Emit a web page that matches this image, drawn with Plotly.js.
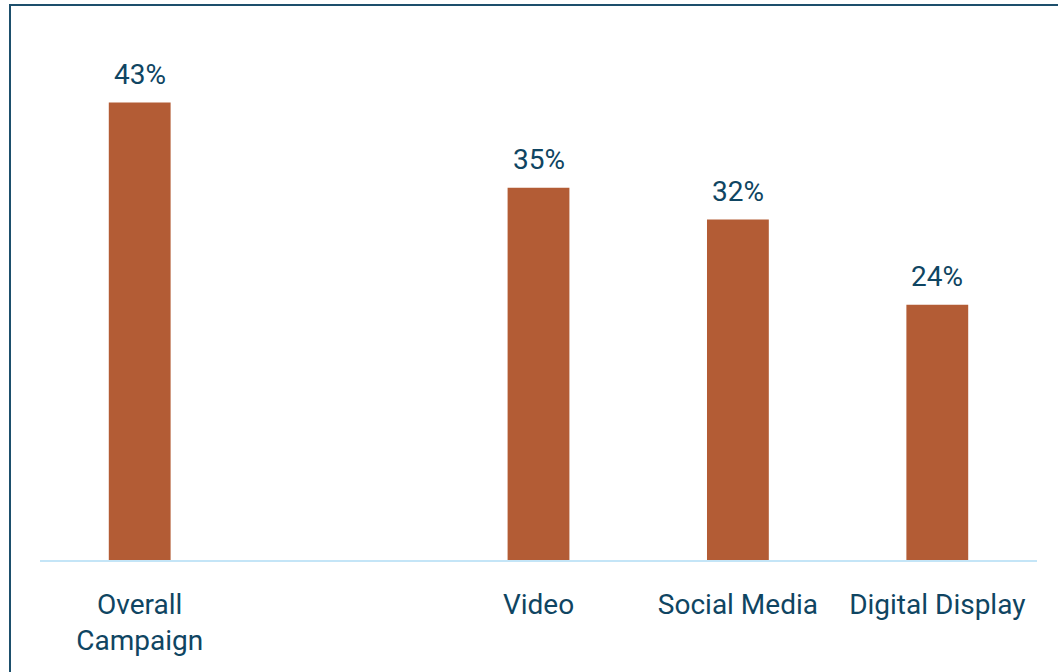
<!DOCTYPE html>
<html>
<head>
<meta charset="utf-8">
<script src="https://cdn.plot.ly/plotly-3.0.1.min.js"></script>
<style>
html,body{margin:0;padding:0;background:#fff;overflow:hidden;}
#wrap{position:relative;width:1058px;height:672px;overflow:hidden;}
#frame{position:absolute;left:9px;top:4px;width:1200px;height:800px;border-top:2px solid #1d4f6c;border-left:2px solid #1d4f6c;box-sizing:border-box;pointer-events:none;z-index:5;}
#chart{position:absolute;left:0;top:0;width:1058px;height:672px;}
</style>
</head>
<body>
<div id="wrap"><div id="chart"></div><div id="frame"></div></div>
<script>
const categories = ["Overall<br>Campaign", " ", "Video", "Social Media", "Digital Display"];
const values = [43, null, 35, 32, 24];
const labels = ["43%", "", "35%", "32%", "24%"];

const FONT = "Roboto, 'Liberation Sans', Arial, sans-serif";
const NAVY = "#0f4562";

const annotations = [];
categories.forEach((c, i) => {
  if (values[i] === null) return;
  annotations.push({
    x: c, y: values[i], xref: "x", yref: "y",
    text: labels[i], showarrow: false,
    yanchor: "bottom", yshift: 10,
    font: {family: FONT, size: 28, color: NAVY}
  });
});

const trace = {
  type: "bar",
  x: categories,
  y: values,
  marker: {color: "#b35c35"},
  hoverinfo: "skip"
};

const layout = {
  width: 1058, height: 672,
  margin: {l: 40, r: 21, t: 60, b: 112},
  paper_bgcolor: "#ffffff", plot_bgcolor: "#ffffff",
  bargap: 0.69,
  showlegend: false,
  font: {family: FONT, size: 28, color: NAVY},
  xaxis: {
    type: "category",
    categoryorder: "array", categoryarray: categories,
    showline: true, linecolor: "#c4e5f7", linewidth: 2,
    ticks: "", showgrid: false, zeroline: false,
    ticklabelstandoff: 18,
    tickfont: {family: FONT, size: 28, color: NAVY}
  },
  yaxis: {
    range: [0, 47], visible: false, showgrid: false, zeroline: false
  },
  annotations: annotations
};

Plotly.newPlot("chart", [trace], layout, {displayModeBar: false, staticPlot: true});
</script>
</body>
</html>
